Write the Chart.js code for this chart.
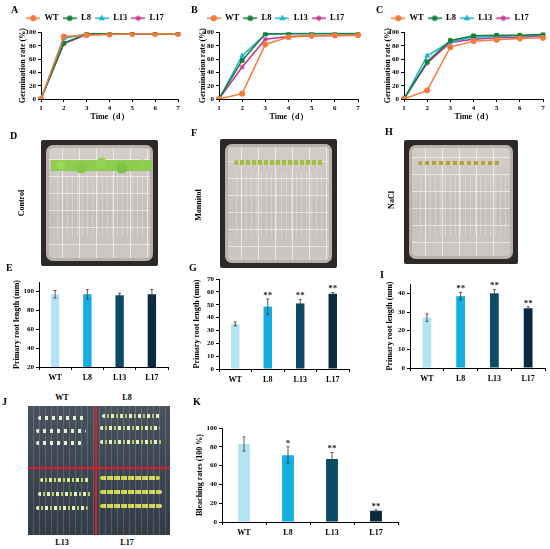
<!DOCTYPE html>
<html>
<head>
<meta charset="utf-8">
<script src="https://cdn.jsdelivr.net/npm/chart.js@4.4.1/dist/chart.umd.min.js"></script>
<style>
  html, body { margin: 0; padding: 0; background: #fff; }
  body { width: 550px; height: 549px; position: relative; overflow: hidden;
         font-family: 'Liberation Serif', 'Times New Roman', serif; font-weight: bold; }
  .box { position: absolute; }
  .lt { position: absolute; font-size: 10px; font-weight: bold; line-height: 12px; }
  .side { position: absolute; font-size: 8px; font-weight: bold; transform: translate(-50%, -50%) rotate(-90deg); white-space: nowrap; }
  .cap { position: absolute; font-size: 8px; font-weight: bold; transform: translateX(-50%); }
  .plate { position: absolute; background: #2e2826; border-radius: 2px; }
  .plate .in { position: absolute; left: 5px; top: 5px; right: 5px; bottom: 5px; border-radius: 7px;
    background:
      repeating-linear-gradient(90deg, transparent 0 16px, rgba(255,255,255,0.6) 16px 17px),
      repeating-linear-gradient(0deg, transparent 0 16px, rgba(255,255,255,0.55) 16px 17px),
      linear-gradient(180deg, #d5cfca, #c4bfbb 60%, #cdc8c4);
    box-shadow: inset 0 0 0 3px #b9b0a9; }
  .plate .roots { position: absolute; left: 12px; right: 12px; top: 34px; height: 50%;
    background: repeating-linear-gradient(90deg, transparent 0 4px, rgba(255,255,255,0.25) 4px 5px); }
  .plate .sprouts { position: absolute; left: 8px; right: 8px; border-radius: 3px; }
  .jphoto { position: absolute; background: linear-gradient(180deg, #47525c, #323c46); overflow: hidden; }
  .jphoto .row { position: absolute; height: 4px; border-radius: 2px;
    background: repeating-linear-gradient(90deg, #e8ecd8 0 3px, transparent 3px 7px); }
  .jphoto .stem { position: absolute; top: 0; bottom: 0; left: 0; right: 0;
    background: repeating-linear-gradient(90deg, transparent 0 5px, rgba(220,225,230,0.18) 5px 6px); }
</style>
</head>
<body>

<div class="box" style="left:0;top:0;width:183px;height:122px"><canvas id="chartA"></canvas></div>
<div class="box" style="left:180px;top:0;width:183px;height:122px"><canvas id="chartB"></canvas></div>
<div class="box" style="left:365px;top:0;width:185px;height:122px"><canvas id="chartC"></canvas></div>

<div class="box" style="left:0;top:262px;width:183px;height:128px"><canvas id="chartE"></canvas></div>
<div class="box" style="left:180px;top:262px;width:183px;height:128px"><canvas id="chartG"></canvas></div>
<div class="box" style="left:365px;top:262px;width:185px;height:128px"><canvas id="chartI"></canvas></div>

<div class="box" style="left:185px;top:395px;width:225px;height:150px"><canvas id="chartK"></canvas></div>

<!-- plates -->
<div class="plate" style="left:41px;top:140px;width:117px;height:126px">
  <div class="in"></div><div class="roots"></div>
  <div class="sprouts" style="top:16px;height:20px;left:10px;right:6px;background:radial-gradient(circle at 10% 45%, #9ad85a 0 4px, transparent 5px), radial-gradient(circle at 30% 60%, #86c94a 0 5px, transparent 6px), radial-gradient(circle at 50% 35%, #93d456 0 5px, transparent 6px), radial-gradient(circle at 70% 60%, #7fc046 0 5px, transparent 6px), radial-gradient(circle at 90% 40%, #8fd14f 0 4px, transparent 5px), linear-gradient(180deg, transparent 0 20%, #8ccc4f 20% 75%, transparent 75%);"></div>
</div>
<div class="plate" style="left:220px;top:139px;width:117px;height:129px">
  <div class="in"></div><div class="roots"></div>
  <div class="sprouts" style="top:21px;height:5px;left:14px;right:14px;background:repeating-linear-gradient(90deg,#9fbf4a 0 4px,#d7cfa8 4px 6px);"></div>
</div>
<div class="plate" style="left:404px;top:140px;width:114px;height:124px">
  <div class="in"></div><div class="roots"></div>
  <div class="sprouts" style="top:21px;height:4px;left:14px;right:16px;background:repeating-linear-gradient(90deg,#b0a24a 0 4px,#d7cfa8 4px 7px);"></div>
</div>

<div class="jphoto" style="left:28px;top:406px;width:142px;height:129px">
  <div class="stem"></div>
  <div class="row" style="left:10px;top:10px;width:48px"></div>
  <div class="row" style="left:8px;top:23px;width:50px"></div>
  <div class="row" style="left:8px;top:35px;width:46px"></div>
  <div class="row" style="left:74px;top:8px;width:58px;background:repeating-linear-gradient(90deg,#e8ecd8 0 3px,transparent 3px 5px,#b9d04a 5px 7px,transparent 7px 9px)"></div>
  <div class="row" style="left:72px;top:20px;width:60px;background:repeating-linear-gradient(90deg,#e8ecd8 0 3px,transparent 3px 5px,#b9d04a 5px 7px,transparent 7px 9px)"></div>
  <div class="row" style="left:72px;top:34px;width:62px;background:repeating-linear-gradient(90deg,#e8ecd8 0 3px,transparent 3px 5px,#b9d04a 5px 7px,transparent 7px 9px)"></div>
  <div class="row" style="left:12px;top:72px;width:50px;background:repeating-linear-gradient(90deg,#e0e6b0 0 3px,transparent 3px 5px,#c5d84e 5px 7px,transparent 7px 9px)"></div>
  <div class="row" style="left:10px;top:86px;width:54px;background:repeating-linear-gradient(90deg,#e8ecd8 0 3px,transparent 3px 5px,#b9d04a 5px 7px,transparent 7px 9px)"></div>
  <div class="row" style="left:8px;top:100px;width:52px;background:repeating-linear-gradient(90deg,#e8ecd8 0 3px,transparent 3px 5px,#b9d04a 5px 7px,transparent 7px 9px)"></div>
  <div class="row" style="left:72px;top:70px;width:60px;background:repeating-linear-gradient(90deg,#c8d84a 0 4px,#e6d870 4px 6px,transparent 6px 7px)"></div>
  <div class="row" style="left:72px;top:84px;width:62px;background:repeating-linear-gradient(90deg,#c8d84a 0 4px,#e6d870 4px 6px,transparent 6px 7px)"></div>
  <div class="row" style="left:72px;top:98px;width:62px;background:repeating-linear-gradient(90deg,#c8d84a 0 4px,#e6d870 4px 6px,transparent 6px 7px)"></div>
  <div style="position:absolute;left:67px;top:0;width:2px;height:100%;background:#e0192b"></div>
  <div style="position:absolute;left:0;top:61px;width:100%;height:2px;background:#e0192b"></div>
</div>

<!-- panel letters and captions -->
<div class="lt" style="left:11px;top:4px">A</div>
<div class="lt" style="left:191px;top:4px">B</div>
<div class="lt" style="left:376px;top:4px">C</div>
<div class="lt" style="left:10px;top:130px">D</div>
<div class="lt" style="left:191px;top:127px">F</div>
<div class="lt" style="left:385px;top:126px">H</div>
<div class="lt" style="left:6px;top:262px">E</div>
<div class="lt" style="left:189px;top:262px">G</div>
<div class="lt" style="left:380px;top:269px">I</div>
<div class="lt" style="left:2px;top:396px">J</div>
<div class="lt" style="left:193px;top:396px">K</div>

<div class="side" style="left:21px;top:203px">Control</div>
<div class="side" style="left:198px;top:205px">Mannitol</div>
<div class="side" style="left:391px;top:200px">NaCl</div>

<div class="cap" style="left:62px;top:393px">WT</div>
<div class="cap" style="left:127px;top:393px">L8</div>
<div class="cap" style="left:62px;top:538px">L13</div>
<div class="cap" style="left:127px;top:538px">L17</div>

<script>
// germination days
const days = ['1', '2', '3', '4', '5', '6', '7'];
const lineNames = ['WT', 'L8', 'L13', 'L17'];

// A: control germination rate (%)
const aWT  = [0, 94, 96, 97, 98, 98, 98];
const aL8  = [0, 84, 98, 98, 98, 98, 98];
const aL13 = [0, 91, 98, 98, 98, 98, 98];
const aL17 = [0, 83, 97, 98, 98, 98, 98];

// B: mannitol germination rate (%)
const bWT  = [0, 8, 82, 93, 95, 96, 96];
const bL8  = [0, 58, 98, 98, 98, 98, 98];
const bL13 = [0, 65, 97, 99, 99, 99, 99];
const bL17 = [0, 48, 90, 94, 95, 95, 96];

// C: NaCl germination rate (%)
const cWT  = [0, 13, 78, 87, 89, 91, 92];
const cL8  = [0, 56, 88, 95, 96, 96, 97];
const cL13 = [0, 65, 86, 93, 94, 95, 96];
const cL17 = [0, 54, 85, 90, 92, 93, 95];

const lineColors = ['#f47b3c', '#157f3b', '#1cb4cf', '#c8338f'];
const lineMarkers = ['circle', 'rect', 'triangle', 'star'];

// bar panels
const genotypes = ['WT', 'L8', 'L13', 'L17'];
const barColors = ['#b4e4f4', '#14afe0', '#0c4b67', '#0a2b3d'];

const eLen = [97, 97, 96, 97];
const eErr = [4, 5, 2, 5];
const eSig = ['', '', '', ''];

const gLen = [35, 48.5, 51, 58.5];
const gErr = [1.5, 6, 3, 1];
const gSig = ['', '**', '**', '**'];

const iLen = [27, 38.5, 40, 32];
const iErr = [2, 2, 2, 0.8];
const iSig = ['', '**', '**', '**'];

const kRate = [83, 71, 67, 12];
const kErr = [7.5, 9, 7, 1];
const kSig = ['', '*', '**', '**'];

const FONT = "'Liberation Serif', 'Times New Roman', serif";

function legendIcon(color, marker) {
    const c = document.createElement('canvas');
    c.width = 14; c.height = 8;
    const g = c.getContext('2d');
    g.strokeStyle = color; g.lineWidth = 1.5;
    g.beginPath(); g.moveTo(0, 4); g.lineTo(14, 4); g.stroke();
    g.fillStyle = color;
    g.lineWidth = 1;
    Chart.helpers.drawPoint(g, { pointStyle: marker, radius: 2.6, borderWidth: 1 }, 7, 4);
    g.fill();
    g.stroke();
    return c;
}

function axisStyle() {
    return {
        border: { display: true, color: '#000', width: 1 },
        grid: { display: true, drawOnChartArea: false, drawTicks: true, tickLength: 3, color: '#000' },
        ticks: { color: '#000', padding: 2, font: { family: FONT, size: 7, weight: 'bold' } }
    };
}

function makeLine(id, series, pad) {
    const datasets = series.map((vals, i) => ({
        label: lineNames[i],
        data: vals,
        borderColor: lineColors[i],
        backgroundColor: lineColors[i],
        borderWidth: 1.5,
        pointStyle: lineMarkers[i],
        pointRadius: 2.6,
        pointBorderWidth: 1,
        tension: 0
    }));
    const x = axisStyle();
    const y = axisStyle();
    new Chart(document.getElementById(id), {
        type: 'line',
        data: { labels: days, datasets: datasets },
        options: {
            responsive: true, maintainAspectRatio: false, animation: false,
            layout: { padding: { left: pad.left, right: pad.right, top: 10, bottom: 0 } },
            plugins: {
                tooltip: { enabled: false },
                legend: {
                    position: 'top',
                    labels: {
                        usePointStyle: true, pointStyleWidth: 14, padding: 4, color: '#000',
                        font: { family: FONT, size: 8.5, weight: 'bold' },
                        generateLabels: () => lineNames.map((n, i) => ({
                            text: n, pointStyle: legendIcon(lineColors[i], lineMarkers[i]),
                            fillStyle: lineColors[i], strokeStyle: lineColors[i], lineWidth: 0, datasetIndex: i
                        }))
                    }
                }
            },
            scales: {
                x: Object.assign(x, {
                    offset: false,
                    title: { display: true, text: 'Time（d）', color: '#000', padding: 0,
                             font: { family: FONT, size: 8, weight: 'bold' } },
                    afterFit: s => { s.height = 23; }
                }),
                y: Object.assign(y, {
                    min: 0, max: 100,
                    ticks: Object.assign(y.ticks, { stepSize: 20 }),
                    title: { display: true, text: 'Germination rate (%)', color: '#000',
                             padding: { top: pad.tp, bottom: 0 }, font: { family: FONT, size: 8, weight: 'bold' } },
                    afterFit: s => { s.width = pad.yw; }
                })
            }
        }
    });
}

const errorBars = {
    id: 'errorBars',
    afterDatasetsDraw(chart) {
        const ds = chart.data.datasets[0];
        const meta = chart.getDatasetMeta(0);
        const ys = chart.scales.y;
        const ctx = chart.ctx;
        ctx.save();
        ctx.strokeStyle = '#333';
        ctx.lineWidth = 0.8;
        meta.data.forEach((bar, i) => {
            const v = ds.data[i], e = ds.errors[i];
            const top = ys.getPixelForValue(v + e);
            const bot = ys.getPixelForValue(v - e);
            ctx.beginPath();
            ctx.moveTo(bar.x, top); ctx.lineTo(bar.x, bot);
            ctx.moveTo(bar.x - 1.5, top); ctx.lineTo(bar.x + 1.5, top);
            ctx.moveTo(bar.x - 1.5, bot); ctx.lineTo(bar.x + 1.5, bot);
            ctx.stroke();
            if (ds.marks[i]) {
                ctx.fillStyle = '#222';
                ctx.font = 'bold 9px ' + FONT;
                ctx.textAlign = 'center';
                ctx.textBaseline = 'bottom';
                ctx.fillText(ds.marks[i], bar.x, top + 1);
            }
        });
        ctx.restore();
    }
};

function makeBar(id, vals, errs, marks, yOpts, title, geo) {
    const x = axisStyle();
    const y = axisStyle();
    x.ticks.font = { family: FONT, size: 8, weight: 'bold' };
    x.ticks.padding = 3;
    new Chart(document.getElementById(id), {
        type: 'bar',
        data: {
            labels: genotypes,
            datasets: [{
                data: vals, errors: errs, marks: marks,
                backgroundColor: barColors, borderWidth: 0,
                barPercentage: geo.bar, categoryPercentage: 1
            }]
        },
        options: {
            responsive: true, maintainAspectRatio: false, animation: false,
            layout: { padding: { left: 0, right: geo.right, top: geo.top, bottom: 0 } },
            plugins: { legend: { display: false }, tooltip: { enabled: false } },
            scales: {
                x: Object.assign(x, { afterFit: s => { s.height = geo.xh; } }),
                y: Object.assign(y, {
                    min: yOpts.min, max: yOpts.max,
                    ticks: Object.assign(y.ticks, { stepSize: yOpts.step }),
                    title: { display: true, text: title, color: '#000',
                             padding: { top: geo.tp, bottom: 0 }, font: { family: FONT, size: 8, weight: 'bold' } },
                    afterFit: s => { s.width = geo.yw; }
                })
            }
        },
        plugins: [errorBars]
    });
}

makeLine('chartA', [aWT, aL8, aL13, aL17], { left: 12, right: 5, yw: 29, tp: 6 });
makeLine('chartB', [bWT, bL8, bL13, bL17], { left: 12, right: 4, yw: 27, tp: 6 });
makeLine('chartC', [cWT, cL8, cL13, cL17], { left: 12, right: 7, yw: 27, tp: 6 });

makeBar('chartE', eLen, eErr, eSig, { min: 20, max: 110, step: 10 }, 'Primary root length (mm)',
        { right: 15, top: 20, xh: 23, yw: 39, tp: 12, bar: 0.26 });
makeBar('chartG', gLen, gErr, gSig, { min: 0, max: 70, step: 10 }, 'Primary root length (mm)',
        { right: 14, top: 17, xh: 21, yw: 39, tp: 12, bar: 0.26 });
makeBar('chartI', iLen, iErr, iSig, { min: 0, max: 45, step: 5 }, 'Primary root length (mm)',
        { right: 5, top: 22, xh: 22, yw: 45, tp: 20, bar: 0.26 });
makeBar('chartK', kRate, kErr, kSig, { min: 0, max: 100, step: 10 }, 'Bleaching rates (100 %)',
        { right: 12, top: 33, xh: 23, yw: 37, tp: 10, bar: 0.27 });
</script>
</body>
</html>
